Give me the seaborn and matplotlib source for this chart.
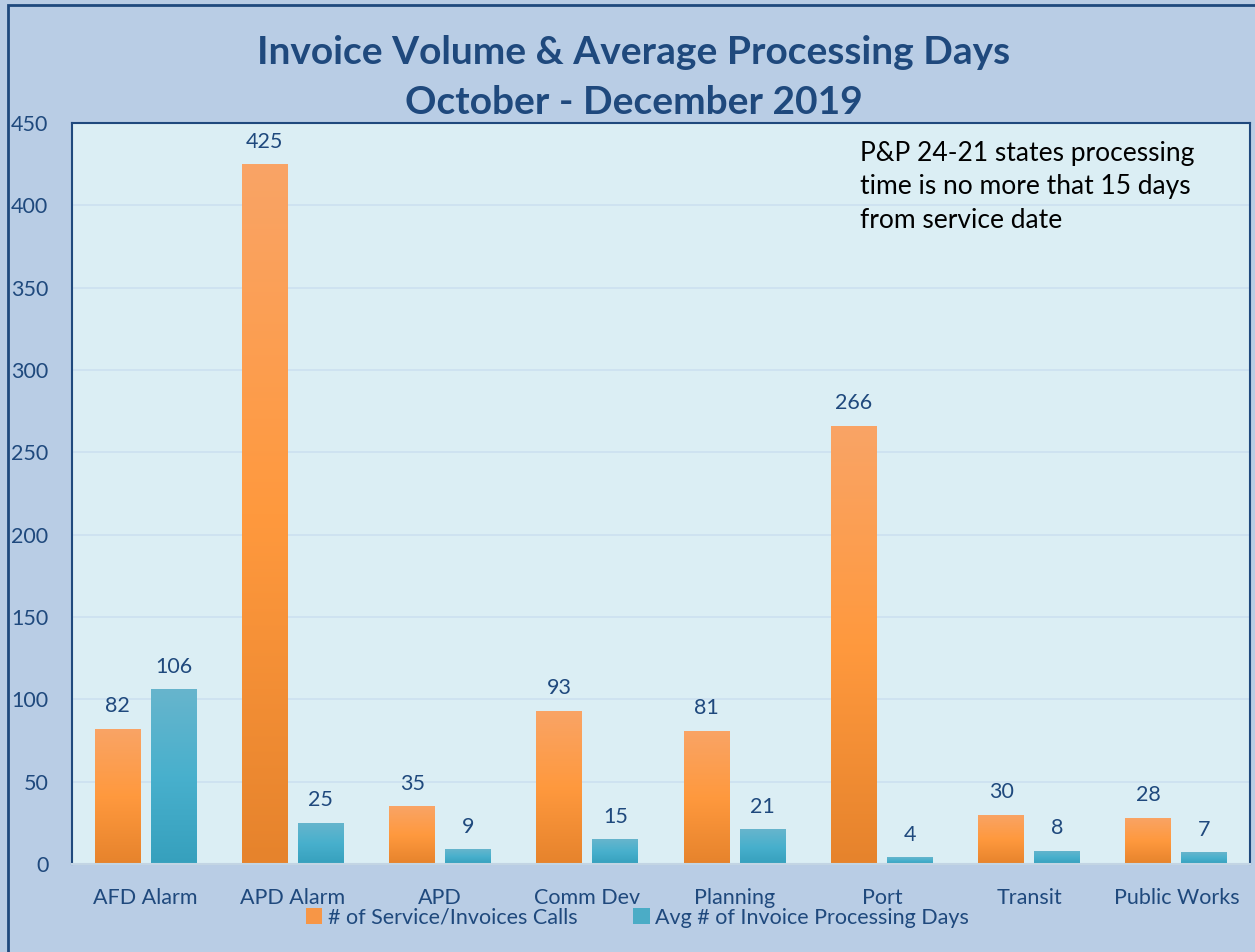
import matplotlib
matplotlib.use("Agg")
import matplotlib.pyplot as plt
import matplotlib.patches as mpatches
import numpy as np
import pandas as pd
import seaborn as sns

sns.set_theme(style="white")
plt.rcParams["font.family"] = ["Lato", "DejaVu Sans"]

departments = ["AFD Alarm", "APD Alarm", "APD", "Comm Dev", "Planning",
               "Port", "Transit", "Public Works"]
service_calls = [82, 425, 35, 93, 81, 266, 30, 28]
avg_days = [106, 25, 9, 15, 21, 4, 8, 7]
series_names = ["# of Service/Invoices Calls", "Avg # of Invoice Processing Days"]
y_ticks = [0, 50, 100, 150, 200, 250, 300, 350, 400, 450]

NAVY = "#1F497D"
FIG_BG = "#B9CDE5"
AX_BG = "#DBEEF4"
GRID = "#CCE0F0"
ORANGE = "#F79646"
TEAL = "#4BACC6"
# top -> middle -> bottom gradient stops
GRAD = {ORANGE: ["#F9A466", "#FF993E", "#E6832C"],
        TEAL: ["#67B5CC", "#48B0CD", "#36A0BD"]}

df = pd.DataFrame({
    "dept": departments * 2,
    "value": service_calls + avg_days,
    "series": [series_names[0]] * len(departments) + [series_names[1]] * len(departments),
})

fig = plt.figure(figsize=(12.55, 9.52), dpi=100, facecolor=FIG_BG)
ax = fig.add_axes([72 / 1255, 88 / 952, 1178 / 1255, 741 / 952])
ax.set_facecolor(AX_BG)

sns.barplot(data=df, x="dept", y="value", hue="series", order=departments,
            hue_order=series_names, palette=[ORANGE, TEAL], saturation=1,
            width=0.76, gap=0.18, linewidth=0, ax=ax)

# gradient fill clipped to each bar
for cont, col in zip(ax.containers, [ORANGE, TEAL]):
    cmap = matplotlib.colors.LinearSegmentedColormap.from_list("g", GRAD[col])
    grad = np.linspace(0, 1, 256).reshape(-1, 1)
    for p in cont.patches:
        x0, y0 = p.get_x(), p.get_y()
        w, h = p.get_width(), p.get_height()
        im = ax.imshow(grad, cmap=cmap, aspect="auto", origin="upper",
                       extent=[x0, x0 + w, y0, y0 + h], zorder=p.get_zorder() + 0.1)
        im.set_clip_path(p)
    ax.bar_label(cont, padding=9, fontsize=15.5, color=NAVY)

ax.set_xlim(-0.5, 7.5)
ax.set_ylim(0, 450)
ax.set_yticks(y_ticks)
ax.yaxis.grid(True, color=GRID, lw=1.2)
ax.set_axisbelow(True)
ax.set_xlabel("")
ax.set_ylabel("")
ax.tick_params(axis="both", length=0, labelsize=15.5, labelcolor=NAVY)
ax.tick_params(axis="y", pad=17)
ax.tick_params(axis="x", pad=17)

for side in ["left", "top", "right"]:
    ax.spines[side].set_color(NAVY)
    ax.spines[side].set_linewidth(1.5)
ax.spines["bottom"].set_color("#C3D5E4")
ax.spines["bottom"].set_linewidth(1.5)

ax.text(0.669, 0.976, "P&P 24-21 states processing\ntime is no more that 15 days\nfrom service date",
        transform=ax.transAxes, ha="left", va="top", fontsize=19,
        color="black", linespacing=1.42)

leg = ax.legend(loc="center", bbox_to_anchor=(0.508, 0.036),
                bbox_transform=fig.transFigure, ncol=2, frameon=False,
                fontsize=15.5, handlelength=0.75, handleheight=0.75,
                handletextpad=0.25, columnspacing=2.6)
for t in leg.get_texts():
    t.set_color(NAVY)

fig.text(0.505, 1 - 53 / 952, "Invoice Volume & Average Processing Days",
         ha="center", va="center", fontsize=28, fontweight="bold", color=NAVY)
fig.text(0.505, 1 - 103 / 952, "October - December 2019",
         ha="center", va="center", fontsize=28, fontweight="bold", color=NAVY)

# outer chart border
fig.patches.append(mpatches.Rectangle((8 / 1255, -0.05), 1.2, 0.05 + 1 - 5 / 952,
                                      transform=fig.transFigure, fill=False,
                                      edgecolor=NAVY, lw=2, zorder=10))

fig.savefig("out.png", dpi=100, facecolor=FIG_BG)
